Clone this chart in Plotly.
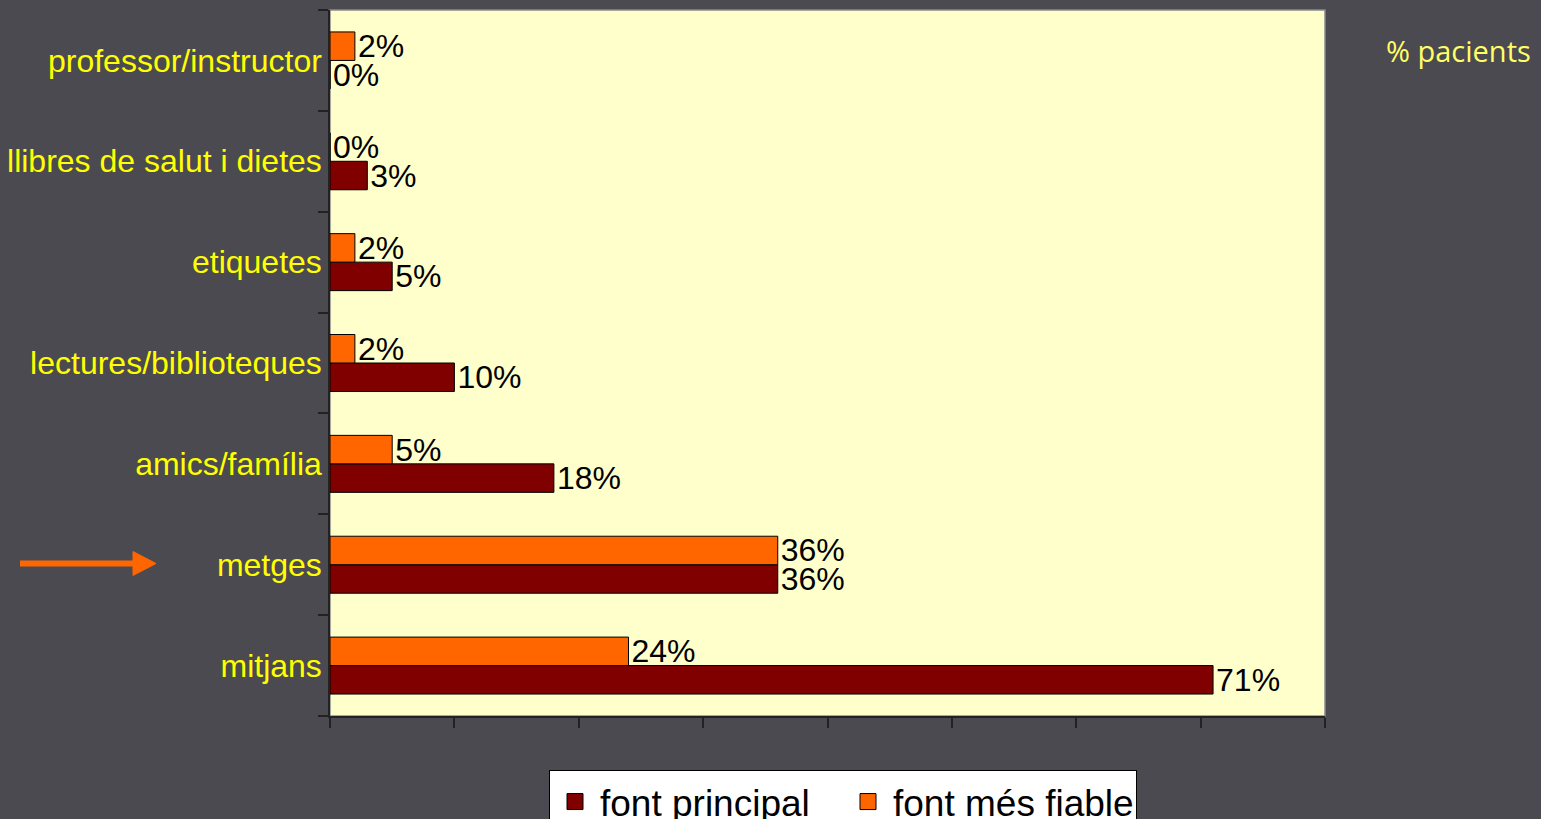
import plotly.graph_objects as go

# categories listed bottom -> top
categories = ["mitjans", "metges", "amics/família", "lectures/biblioteques",
              "etiquetes", "llibres de salut i dietes", "professor/instructor"]
font_principal = [71, 36, 18, 10, 5, 3, 0]
font_mes_fiable = [24, 36, 5, 2, 2, 0, 2]
series_names = ["font principal", "font més fiable"]
series_colors = ["#800000", "#ff6600"]
x_ticks = [0, 10, 20, 30, 40, 50, 60, 70, 80]

BG = "#4b4a50"
FONT = "Liberation Sans, Arial, sans-serif"
W, H = 1541, 850

fig = go.Figure()
for vals, name, col in zip([font_principal, font_mes_fiable], series_names, series_colors):
    fig.add_trace(go.Bar(
        y=categories, x=vals, orientation="h", name=name, showlegend=False,
        marker=dict(color=col, line=dict(color="#000000", width=1)),
        text=[f"{v}%" for v in vals], textposition="outside",
        textfont=dict(color="#000000", size=32, family=FONT),
        constraintext="none", cliponaxis=False,
    ))
# legend entries with larger square swatches
for name, col in zip(series_names, series_colors):
    fig.add_trace(go.Scatter(
        x=[None], y=[None], mode="markers", name=name,
        marker=dict(symbol="square", size=17, color=col, line=dict(color="#000000", width=1)),
    ))

# plot-area coordinates helpers (pixels -> paper)
L, R, T, B = 330, 1325, 10, 716
def px(x):
    return (x - L) / (R - L)
def py(y):
    return (B - y) / (B - T)

shapes = [
    dict(type="rect", xref="paper", yref="paper", x0=0, x1=1, y0=0, y1=1,
         line=dict(color="#8a8a8a", width=1.5), layer="below"),
    dict(type="line", xref="paper", yref="paper", x0=px(20), x1=px(136),
         y0=py(563.5), y1=py(563.5), line=dict(color="#ff6600", width=6)),
    dict(type="path", xref="paper", yref="paper",
         path=f"M {px(133)},{py(551.5)} L {px(156)},{py(563.5)} L {px(133)},{py(575.5)} Z",
         fillcolor="#ff6600", line=dict(color="#ff6600", width=1)),
]

fig.update_layout(
    width=W, height=H, autosize=False,
    margin=dict(l=L, r=W - R, t=T, b=H - B, autoexpand=False),
    paper_bgcolor=BG, plot_bgcolor="#ffffcc",
    barmode="group", bargap=0.435, bargroupgap=0,
    font=dict(family=FONT),
    xaxis=dict(range=[0, 80], tickvals=x_ticks, showticklabels=False,
               showgrid=False, zeroline=False, showline=True, linecolor="#222222",
               linewidth=1.5, ticks="outside", ticklen=10, tickcolor="#222222",
               tickwidth=1.5, fixedrange=True),
    yaxis=dict(showgrid=False, showline=True, linecolor="#222222", linewidth=1.5,
               ticks="outside", ticklen=10, tickcolor="#222222", tickwidth=1.5,
               tickson="boundaries",
               tickfont=dict(color="#ffff00", size=32, family=FONT)),
    legend=dict(orientation="h", x=px(549), xanchor="left", y=py(770), yanchor="top",
                bgcolor="#ffffff", bordercolor="#000000", borderwidth=1,
                font=dict(color="#000000", size=37, family=FONT),
                itemwidth=40, entrywidth=238, traceorder="normal", tracegroupgap=0),
    shapes=shapes,
    annotations=[dict(text="% pacients", xref="paper", yref="paper",
                      x=px(1384), y=py(50), xanchor="left", yanchor="middle",
                      showarrow=False,
                      font=dict(color="#ffff66", size=29, family="Open Sans, DejaVu Sans, sans-serif"))],
)

fig.write_html(
    "out.html",
    config={"displayModeBar": False},
    post_script="document.body.style.margin='0';document.body.style.overflow='hidden';"
                "document.body.style.background='#4b4a50';",
)
